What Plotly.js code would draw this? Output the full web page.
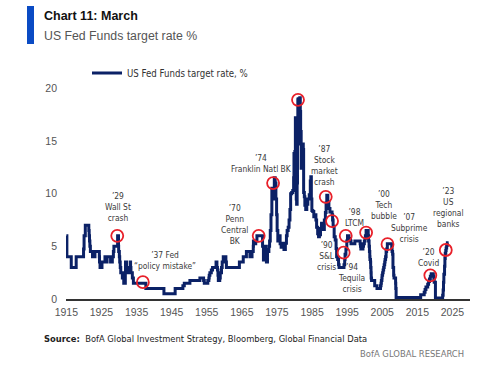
<!DOCTYPE html>
<html>
<head>
<meta charset="utf-8">
<script src="https://cdn.plot.ly/plotly-3.0.1.min.js"></script>
<style>
  html, body { margin: 0; padding: 0; background: #fff; }
  #chart { width: 500px; height: 368px; }
</style>
</head>
<body>
<div id="chart"></div>
<script>
// ---- Data ----
const years = [
  1915.0, 1915.15, 1916.4, 1917.8, 1919.9, 1920.05, 1920.4, 1921.4, 1921.5, 1921.6, 1921.7, 1921.85,
  1922.45, 1923.15, 1924.4, 1924.45, 1924.6, 1925.15, 1926.0, 1926.3, 1926.6, 1927.6, 1928.1, 1928.4,
  1928.55, 1929.6, 1929.85, 1929.9, 1930.1, 1930.2, 1930.35, 1930.5, 1930.95, 1931.35, 1931.8, 1931.85,
  1932.15, 1932.5, 1933.2, 1933.3, 1933.4, 1933.8, 1934.1, 1937.65, 1942.8, 1946.0, 1948.2, 1948.6,
  1950.2, 1953.05, 1954.1, 1954.3, 1955.3, 1955.6, 1955.7, 1955.9, 1956.3, 1956.65, 1957.65, 1957.9,
  1958.05, 1958.2, 1958.3, 1958.7, 1958.85, 1959.2, 1959.4, 1959.7, 1960.45, 1960.6, 1964.3, 1965.4,
  1966.3, 1967.3, 1967.9, 1968.25, 1968.3, 1968.65, 1968.95, 1969.3,
  1970.9, 1971.15, 1971.45, 1971.8, 1972.0, 1972.3, 1972.7, 1972.9, 1973.1, 1973.3, 1973.55, 1973.8,
  1974.0, 1974.25, 1974.5, 1974.7, 1974.9, 1975.05, 1975.25, 1975.6, 1975.9, 1976.2, 1976.5, 1976.8,
  1977.0, 1977.4, 1977.7, 1977.9, 1978.2, 1978.45, 1978.7, 1978.9, 1979.2, 1979.5, 1979.75, 1979.85,
  1980.1, 1980.25, 1980.4, 1980.5, 1980.6, 1980.75, 1980.85, 1980.95, 1981.05, 1981.25, 1981.4, 1981.5,
  1981.65, 1981.75, 1981.9, 1982.05, 1982.2, 1982.5, 1982.6, 1982.8, 1982.95, 1983.2, 1983.5, 1983.8,
  1984.2, 1984.5, 1984.65, 1984.8, 1984.95, 1985.2, 1985.5, 1985.8, 1986.1, 1986.3, 1986.6, 1986.85,
  1987.1, 1987.4, 1987.7, 1987.9, 1988.2, 1988.5, 1988.8, 1989.0, 1989.2, 1989.5, 1989.8, 1990.1,
  1990.7, 1990.85, 1991.0, 1991.3, 1991.6, 1991.85, 1992.0, 1992.3, 1992.55, 1992.7, 1994.1, 1994.3,
  1994.4, 1994.65, 1994.9, 1995.1, 1995.5, 1995.95, 1996.1, 1997.2, 1998.7, 1998.8, 1998.9, 1999.5,
  1999.65, 1999.9, 2000.1, 2000.2, 2000.4, 2001.0, 2001.1, 2001.25, 2001.35, 2001.45, 2001.5, 2001.65,
  2001.7, 2001.8, 2001.85, 2001.95, 2002.85, 2003.5, 2004.5, 2004.65, 2004.75, 2004.9, 2004.95, 2005.1,
  2005.25, 2005.4, 2005.55, 2005.7, 2005.8, 2005.95, 2006.1, 2006.25, 2006.45, 2007.7, 2007.8, 2007.95,
  2008.05, 2008.25, 2008.35, 2008.8, 2008.85, 2008.95, 2015.95, 2016.95, 2017.2, 2017.45, 2017.95, 2018.2,
  2018.45, 2018.7, 2018.95, 2019.55, 2019.7, 2019.8, 2020.15, 2022.2, 2022.35, 2022.45, 2022.55, 2022.75,
  2022.85, 2022.95, 2023.1, 2023.2, 2023.35, 2023.55, 2023.9
];
const rates = [
  6.0, 4.0, 3.0, 4.0, 4.75, 6.0, 7.0, 6.5, 6.0, 5.5, 5.0, 4.5,
  4.0, 4.5, 4.0, 3.5, 3.0, 3.5, 4.0, 3.5, 4.0, 3.5, 4.0, 4.5,
  5.0, 6.0, 5.0, 4.5, 4.0, 3.5, 3.0, 2.5, 2.0, 1.5, 2.5, 3.5,
  3.0, 2.5, 3.5, 3.0, 2.5, 2.0, 1.5, 1.0, 0.5, 1.0, 1.25, 1.5,
  1.75, 2.0, 1.75, 1.5, 1.75, 2.0, 2.25, 2.5, 2.75, 3.0, 3.5, 3.0,
  2.75, 2.25, 1.75, 2.0, 2.5, 3.0, 3.5, 4.0, 3.5, 3.0, 3.5, 4.0,
  4.5, 4.0, 4.5, 5.0, 5.5, 5.25, 5.5, 6.0,
  5.0, 3.7, 5.0, 4.7, 3.5, 4.5, 5.0, 5.5, 6.5, 8.0, 10.5, 10.0,
  9.5, 11.5, 11.0, 9.5, 8.0, 6.5, 5.5, 6.0, 5.25, 4.9, 5.3, 5.0,
  4.7, 5.3, 6.0, 6.5, 6.8, 7.5, 8.5, 10.0, 10.1, 10.3, 11.5, 13.8,
  14.0, 17.2, 13.0, 9.5, 9.0, 11.0, 15.9, 18.9, 19.0, 14.7, 17.5, 19.1,
  17.8, 15.9, 12.4, 13.2, 14.7, 14.2, 10.1, 9.7, 8.9, 8.5, 9.0, 9.5,
  9.9, 11.2, 11.6, 9.5, 8.4, 8.3, 7.8, 8.0, 7.5, 6.8, 6.2, 5.9,
  6.1, 6.7, 7.2, 6.8, 6.6, 7.5, 8.2, 9.1, 9.85, 9.2, 8.6, 8.25,
  8.0, 7.5, 6.9, 5.9, 5.6, 4.8, 4.0, 3.75, 3.25, 3.0, 3.25, 3.75,
  4.25, 4.75, 5.5, 6.0, 5.75, 5.5, 5.25, 5.5, 5.25, 5.0, 4.75, 5.0,
  5.25, 5.5, 5.75, 6.0, 6.5, 6.0, 5.5, 5.0, 4.5, 4.0, 3.75, 3.5,
  3.0, 2.5, 2.0, 1.75, 1.25, 1.0, 1.25, 1.5, 1.75, 2.0, 2.25, 2.5,
  2.75, 3.0, 3.25, 3.5, 3.75, 4.0, 4.5, 4.75, 5.25, 4.75, 4.5, 4.25,
  3.0, 2.25, 2.0, 1.5, 1.0, 0.15, 0.4, 0.65, 0.9, 1.15, 1.4, 1.65,
  1.9, 2.15, 2.4, 2.15, 1.9, 1.6, 0.1, 0.35, 0.85, 1.6, 2.35, 3.1,
  3.85, 4.35, 4.6, 4.85, 5.1, 5.35, 5.35
];
// Crisis events (circled points)
const eventYears = [1929.5, 1936.8, 1969.8, 1973.9, 1981.0, 1988.9, 1990.7, 1994.0, 1994.6, 2000.4, 2006.5, 2018.7, 2023.1];
const eventRates = [6.0, 1.6, 6.0, 11.0, 18.9, 9.7, 7.4, 4.4, 6.0, 6.3, 5.2, 2.25, 4.65];
const eventLabels = [
  "’29<br>Wall St<br>crash",
  "’37 Fed<br>“policy mistake”",
  "’70<br>Penn<br>Central<br>BK",
  "’74<br>Franklin Natl BK",
  "’82<br>LatAm debt",
  "’87<br>Stock<br>market<br>crash",
  "’90<br>S&amp;L<br>crisis",
  "’94<br>Tequila<br>crisis",
  "’98<br>LTCM",
  "’00<br>Tech<br>bubble",
  "’07<br>Subprime<br>crisis",
  "’20<br>Covid",
  "’23<br>US<br>regional<br>banks"
];
const xTicks = [1915, 1925, 1935, 1945, 1955, 1965, 1975, 1985, 1995, 2005, 2015, 2025];
const yTicks = [0, 5, 10, 15, 20];

// ---- Layout / styling ----
const NARROW = "'DejaVu Sans Condensed', sans-serif";
const SANS = "'Liberation Sans', Arial, sans-serif";
const labelPos = [
  [1929.6, 8.7], [1943.0, 3.7], [1963.0, 7.05], [1970.6, 12.9], [1980.9, 20.8], [1988.6, 12.65],
  [1989.2, 4.1], [1996.3, 2.0], [1997.1, 7.7], [2005.4, 8.9], [2012.8, 6.7], [2018.2, 3.9], [2023.9, 8.7]
];

const annotations = eventLabels.map((t, i) => ({
  text: t, x: labelPos[i][0], y: labelPos[i][1], xref: 'x', yref: 'y',
  showarrow: false, xanchor: 'center', yanchor: 'middle', align: 'center',
  font: { family: NARROW, size: 8.4, color: '#3a3a3a' }
}));

const W = 404, H = 216, L = 66, T = 83;
const px = v => (v - L) / W;
const py = v => (T + H - v) / H;

annotations.push(
  { text: '<b>Chart 11: March</b>', xref: 'paper', yref: 'paper', x: px(42), y: py(16.5),
    xanchor: 'left', yanchor: 'middle', showarrow: false,
    font: { family: SANS, size: 12.5, color: '#111' } },
  { text: 'US Fed Funds target rate %', xref: 'paper', yref: 'paper', x: px(42), y: py(36),
    xanchor: 'left', yanchor: 'middle', showarrow: false,
    font: { family: SANS, size: 12.3, color: '#555' } },
  { text: '<b>Source:</b>  BofA Global Investment Strategy, Bloomberg, Global Financial Data',
    xref: 'paper', yref: 'paper', x: px(42), y: py(338.5),
    xanchor: 'left', yanchor: 'middle', showarrow: false,
    font: { family: NARROW, size: 9.3, color: '#222' } },
  { text: 'BofA GLOBAL RESEARCH', xref: 'paper', yref: 'paper', x: px(466), y: py(353),
    xanchor: 'right', yanchor: 'middle', showarrow: false,
    font: { family: NARROW, size: 9.4, color: '#777' } }
);

const shapes = [
  { type: 'rect', xref: 'paper', yref: 'paper', x0: px(27), x1: px(34), y0: py(44), y1: py(6),
    fillcolor: '#0a4bc4', line: { width: 0 } }
];

const traces = [
  { x: years, y: rates, type: 'scatter', mode: 'lines', name: 'US Fed Funds target rate, %',
    line: { color: '#0b2166', width: 3, shape: 'hv' }, hoverinfo: 'skip' },
  { x: eventYears, y: eventRates, type: 'scatter', mode: 'markers', showlegend: false,
    marker: { symbol: 'circle-open', size: 12, color: '#e8202a', line: { width: 1.8, color: '#e8202a' } },
    cliponaxis: false, hoverinfo: 'skip' }
];

const layout = {
  width: 500, height: 368,
  margin: { l: L, r: 500 - L - W, t: T, b: 368 - T - H, pad: 0 },
  paper_bgcolor: '#fff', plot_bgcolor: '#fff',
  showlegend: true,
  legend: { x: px(87), y: py(73), xanchor: 'left', yanchor: 'middle', orientation: 'h',
    bgcolor: 'rgba(0,0,0,0)', borderwidth: 0,
    font: { family: NARROW, size: 9.6, color: '#333' } },
  xaxis: { range: [1914.9, 2030], tickvals: xTicks, ticktext: xTicks.map(String),
    showgrid: false, zeroline: false, showline: true, linecolor: '#333', linewidth: 1.5,
    ticks: '', ticklabelstandoff: 3, tickfont: { family: SANS, size: 10.5, color: '#555' } },
  yaxis: { range: [0, 20.5], tickvals: yTicks, ticktext: yTicks.map(String),
    showgrid: false, zeroline: false, showline: false, ticks: '', ticklabelstandoff: 8,
    tickfont: { family: SANS, size: 10.5, color: '#555' } },
  annotations: annotations,
  shapes: shapes
};

Plotly.newPlot('chart', traces, layout, { displayModeBar: false, staticPlot: true });
</script>
</body>
</html>
